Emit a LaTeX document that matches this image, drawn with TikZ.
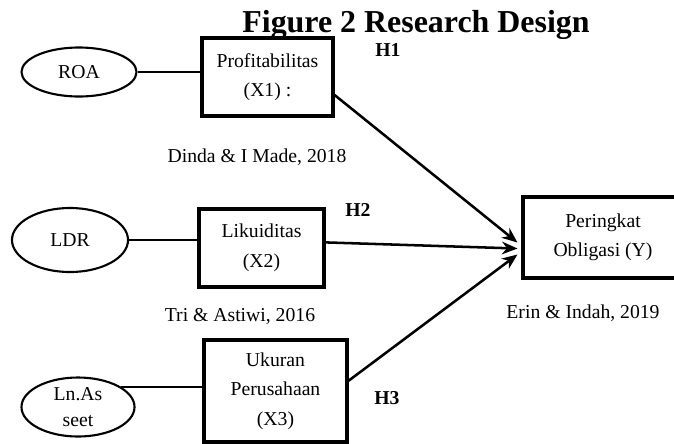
\documentclass[tikz,border=0pt]{standalone}
\usepackage{fontspec}
\setmainfont{Liberation Serif}
\usetikzlibrary{arrows.meta,calc,shapes.geometric}
\begin{document}
\begin{tikzpicture}[x=0.025cm,y=-0.025cm,
  varbox/.style={draw,line width=2.2pt,align=center,inner sep=0pt,font=\fontsize{14}{21}\selectfont},
  indic/.style={draw,ellipse,line width=1.5pt,inner sep=0pt,align=center,font=\fontsize{14}{18}\selectfont},
  hyp/.style={font=\fontsize{14}{17}\selectfont\bfseries},
  src/.style={font=\fontsize{14}{17}\selectfont},
  link/.style={line width=1.8pt},
  infl/.style={line width=1.8pt,-{Stealth[length=11pt,width=9pt]}}]
\clip (0,0) rectangle (674,443);
% title
\node (title) [anchor=base,font=\fontsize{22.7}{27}\selectfont\bfseries] at (416,32) {Figure 2 Research Design};
% variables
\node (x1) [varbox,minimum width=3.275cm,minimum height=1.95cm] at (267.5,77) {Profitabilitas\\(X1) :};
\node (x2) [varbox,minimum width=3.125cm,minimum height=1.95cm] at (261.5,248) {Likuiditas\\(X2)};
\node (x3) [varbox,minimum width=3.575cm,minimum height=2.55cm] at (275.5,391) {Ukuran\\Perusahaan\\(X3)};
\node (y) [varbox,minimum width=4cm,minimum height=2.025cm] at (603,237.5) {Peringkat\\Obligasi (Y)};
% indicators
\node (roa) [indic,minimum width=2.875cm,minimum height=1.225cm] at (79,72) {ROA};
\node (ldr) [indic,minimum width=2.9cm,minimum height=1.6cm] at (70,240) {LDR};
\node (size) [indic,minimum width=2.825cm,minimum height=1.475cm] at (78,407) {Ln.As\\seet};
% hypotheses and sources
\node (h1) [hyp] at (388,50) {H1};
\node (h2) [hyp] at (358,210) {H2};
\node (h3) [hyp] at (387,398) {H3};
\node (s1) [src] at (257,157) {Dinda \& I Made, 2018};
\node (s2) [src] at (240,316) {Tri \& Astiwi, 2016};
\node (s3) [src] at (583,313) {Erin \& Indah, 2019};
% connectors
\draw [link] (roa.east) -- (roa.east -| x1.west);
\draw [link] (ldr.east) -- (ldr.east -| x2.west);
\draw [link] (size.25) -- (size.25 -| x3.west);
\draw [infl] (x1.-15) -- ($(y.west)+(-4,5)$);
\draw [infl] (x2.5) -- ($(y.west)+(-4,11)$);
\draw [infl] (x3.8) -- ($(y.west)+(-4,17)$);
\end{tikzpicture}
\end{document}
